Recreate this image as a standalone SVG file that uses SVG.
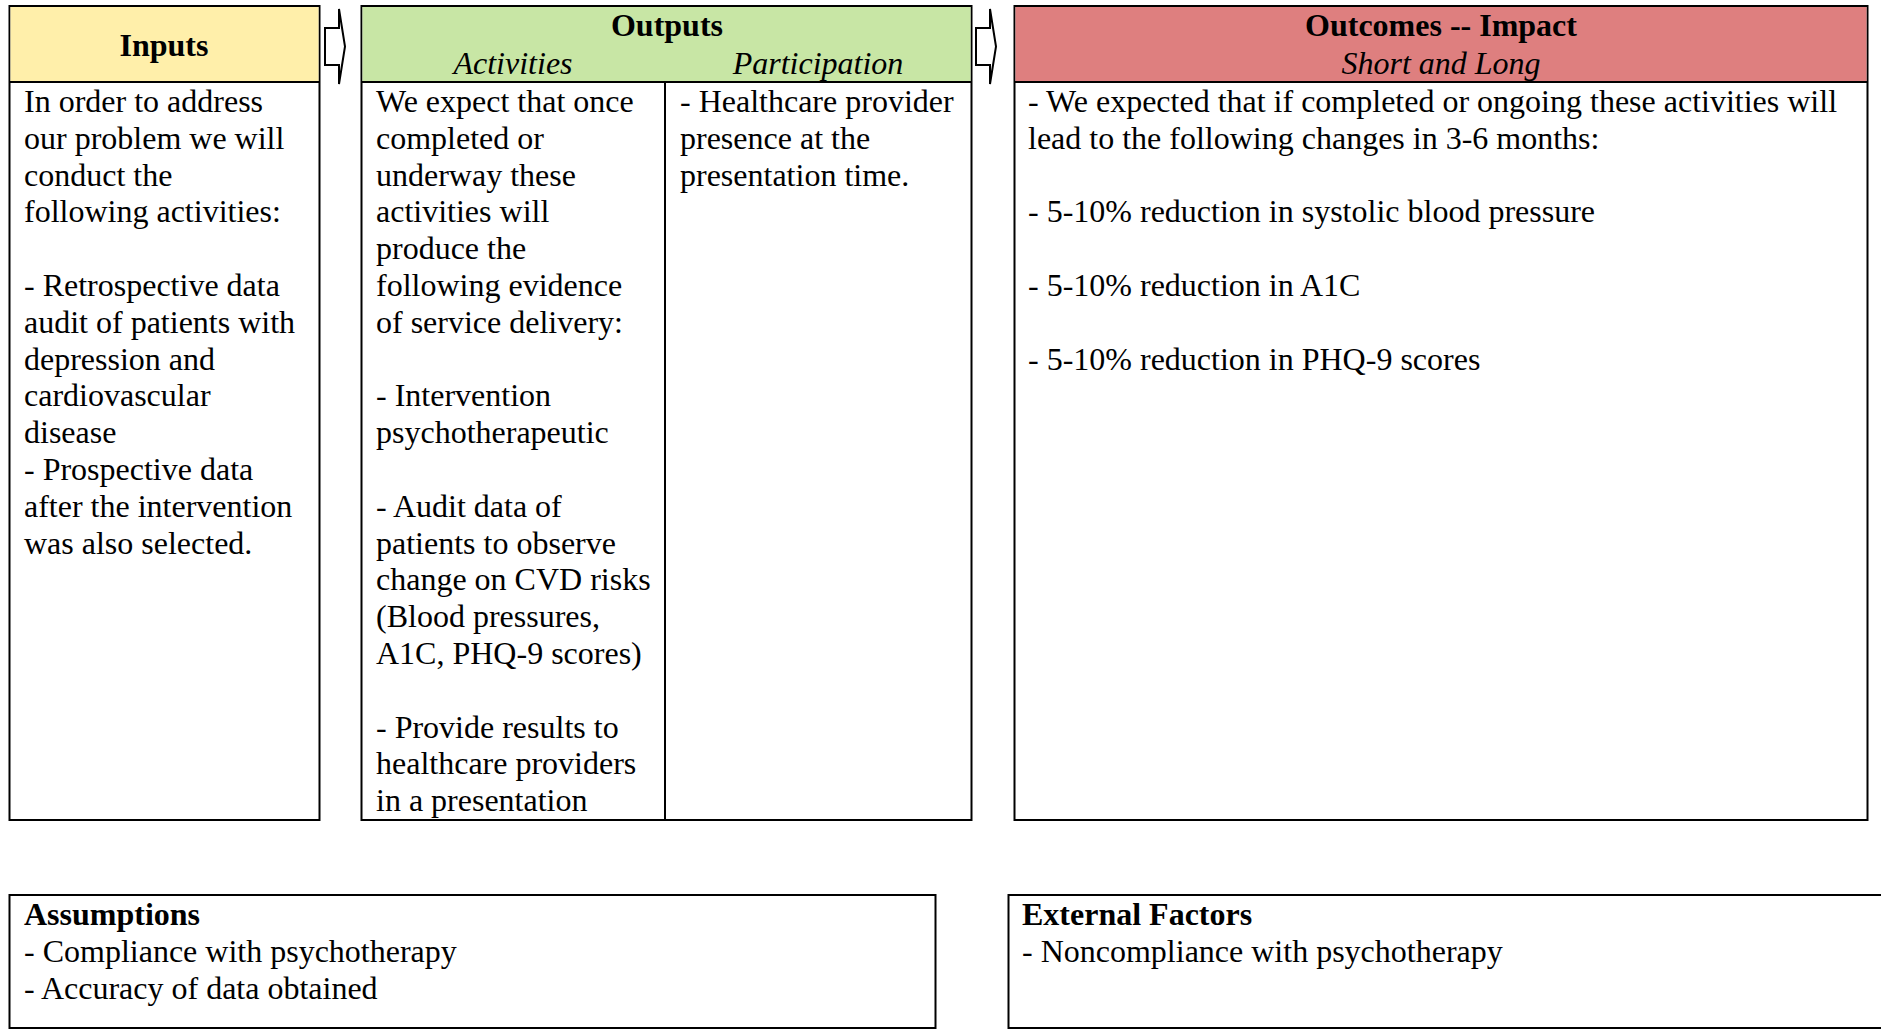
<svg xmlns="http://www.w3.org/2000/svg" width="1881" height="1029" viewBox="0 0 1881 1029">
<style>
.bg{fill:#fff}
.box{fill:#fff;stroke:#000;stroke-width:2}
.ln{stroke:#000;stroke-width:2;fill:none}
.hy{fill:#FFEFAA}
.hg{fill:#C8E6A5}
.hr{fill:#DE7F7F}
.t{font-family:"Liberation Serif","Times New Roman",serif;font-size:32px;fill:#000}
.b{font-weight:bold}
.c{text-anchor:middle}
.it{font-style:italic}
.arr{fill:#fff;stroke:#000;stroke-width:2;stroke-linejoin:miter}
</style>
<rect class="bg" x="0" y="0" width="1881" height="1029"/>

<g id="inputs">
  <rect class="box" x="9.5" y="6" width="310" height="814"/>
  <rect class="hy" x="10.5" y="7" width="308" height="74"/>
  <line class="ln" x1="9.5" y1="82" x2="319.5" y2="82"/>
  <text class="t b c" x="164" y="56">Inputs</text>
  <text class="t" x="24" y="112">
    <tspan x="24" dy="0">In order to address</tspan>
    <tspan x="24" dy="36.8">our problem we will</tspan>
    <tspan x="24" dy="36.8">conduct the</tspan>
    <tspan x="24" dy="36.8">following activities:</tspan>
    <tspan x="24" dy="73.6">- Retrospective data</tspan>
    <tspan x="24" dy="36.8">audit of patients with</tspan>
    <tspan x="24" dy="36.8">depression and</tspan>
    <tspan x="24" dy="36.8">cardiovascular</tspan>
    <tspan x="24" dy="36.8">disease</tspan>
    <tspan x="24" dy="36.8">- Prospective data</tspan>
    <tspan x="24" dy="36.8">after the intervention</tspan>
    <tspan x="24" dy="36.8">was also selected.</tspan>
  </text>
</g>

<g id="outputs">
  <rect class="box" x="361.5" y="6" width="610" height="814"/>
  <rect class="hg" x="362.5" y="7" width="608" height="74"/>
  <line class="ln" x1="361.5" y1="82" x2="971.5" y2="82"/>
  <line class="ln" x1="665" y1="82" x2="665" y2="820"/>
  <text class="t b c" x="667" y="36">Outputs</text>
  <text class="t it c" x="513" y="74">Activities</text>
  <text class="t it c" x="818" y="74">Participation</text>
  <text class="t" x="376" y="112">
    <tspan x="376" dy="0">We expect that once</tspan>
    <tspan x="376" dy="36.8">completed or</tspan>
    <tspan x="376" dy="36.8">underway these</tspan>
    <tspan x="376" dy="36.8">activities will</tspan>
    <tspan x="376" dy="36.8">produce the</tspan>
    <tspan x="376" dy="36.8">following evidence</tspan>
    <tspan x="376" dy="36.8">of service delivery:</tspan>
    <tspan x="376" dy="73.6">- Intervention</tspan>
    <tspan x="376" dy="36.8">psychotherapeutic</tspan>
    <tspan x="376" dy="73.6">- Audit data of</tspan>
    <tspan x="376" dy="36.8">patients to observe</tspan>
    <tspan x="376" dy="36.8">change on CVD risks</tspan>
    <tspan x="376" dy="36.8">(Blood pressures,</tspan>
    <tspan x="376" dy="36.8">A1C, PHQ-9 scores)</tspan>
    <tspan x="376" dy="73.6">- Provide results to</tspan>
    <tspan x="376" dy="36.8">healthcare providers</tspan>
    <tspan x="376" dy="36.8">in a presentation</tspan>
  </text>
  <text class="t" x="680" y="112">
    <tspan x="680" dy="0">- Healthcare provider</tspan>
    <tspan x="680" dy="36.8">presence at the</tspan>
    <tspan x="680" dy="36.8">presentation time.</tspan>
  </text>
</g>

<g id="outcomes">
  <rect class="box" x="1014.5" y="6" width="853" height="814"/>
  <rect class="hr" x="1015.5" y="7" width="851" height="74"/>
  <line class="ln" x1="1014.5" y1="82" x2="1867.5" y2="82"/>
  <text class="t b c" x="1441" y="36">Outcomes -- Impact</text>
  <text class="t it c" x="1441" y="74">Short and Long</text>
  <text class="t" x="1028" y="112">
    <tspan x="1028" dy="0">- We expected that if completed or ongoing these activities will</tspan>
    <tspan x="1028" dy="36.8">lead to the following changes in 3-6 months:</tspan>
    <tspan x="1028" dy="73.6">- 5-10% reduction in systolic blood pressure</tspan>
    <tspan x="1028" dy="73.6">- 5-10% reduction in A1C</tspan>
    <tspan x="1028" dy="73.6">- 5-10% reduction in PHQ-9 scores</tspan>
  </text>
</g>

<g id="assumptions">
  <rect class="box" x="9.5" y="895" width="926" height="133"/>
  <text class="t" x="24" y="925">
    <tspan x="24" dy="0" class="b">Assumptions</tspan>
    <tspan x="24" dy="36.8">- Compliance with psychotherapy</tspan>
    <tspan x="24" dy="36.8">- Accuracy of data obtained</tspan>
  </text>
</g>

<g id="external-factors">
  <rect class="box" x="1008.5" y="895" width="880" height="133"/>
  <text class="t" x="1022" y="925">
    <tspan x="1022" dy="0" class="b">External Factors</tspan>
    <tspan x="1022" dy="36.8">- Noncompliance with psychotherapy</tspan>
  </text>
</g>

<g id="connectors">
  <path class="arr" d="M325,28 L339,28 L339,9 L345,46.5 L339,84 L339,65 L325,65 Z"/>
  <path class="arr" d="M976,28 L990,28 L990,9 L996,46.5 L990,84 L990,65 L976,65 Z"/>
</g>
</svg>
